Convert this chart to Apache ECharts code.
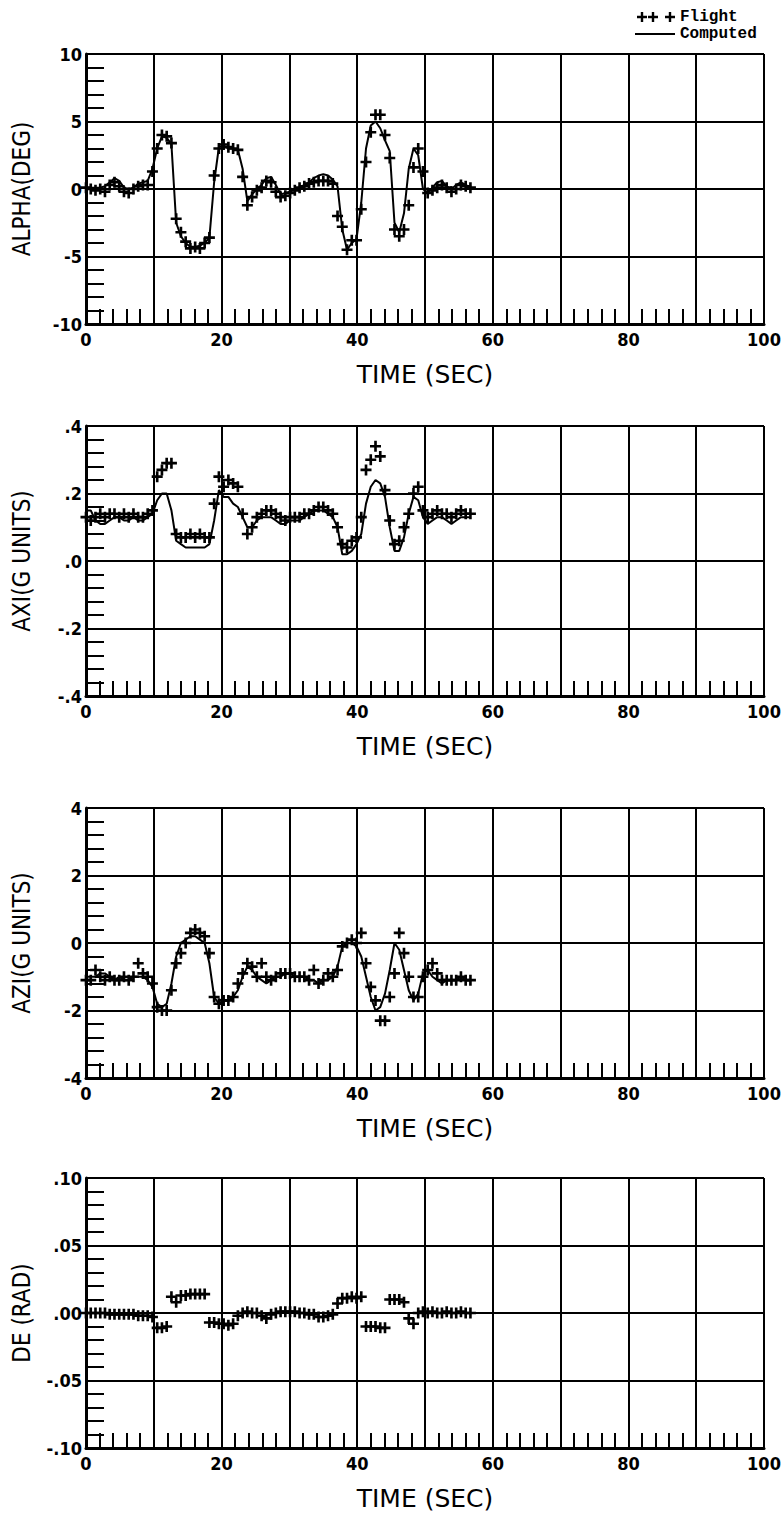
<!DOCTYPE html>
<html>
<head>
<meta charset="utf-8">
<script src="https://cdn.jsdelivr.net/npm/echarts@6/dist/echarts.min.js"></script>
<style>
  html, body { margin: 0; padding: 0; background: #fff; }
  #main { width: 784px; height: 1514px; }
</style>
</head>
<body>
<div id="main"></div>
<script>
// sample times (sec), shared by flight and computed traces
var sampleTime = [0,0.7,1.4,2.1,2.8,3.5,4.2,4.9,5.6,6.3,7,7.7,8.4,9.1,9.8,10.5,11.2,11.9,12.6,13.3,
  14,14.7,15.4,16.1,16.8,17.5,18.2,18.9,19.6,20.3,21,21.7,22.4,23.1,23.8,24.5,25.2,25.9,26.6,27.3,
  28,28.7,29.4,30.1,30.8,31.5,32.2,32.9,33.6,34.3,35,35.7,36.4,37.1,37.8,38.5,39.2,39.9,40.6,41.3,
  42,42.7,43.4,44.1,44.8,45.5,46.2,46.9,47.6,48.3,49,49.7,50.4,51.1,51.8,52.5,53.2,53.9,54.6,55.3,56,56.7];

// ALPHA (deg)
var alphaFlight = [0.1,0,-0.1,0,-0.2,0.3,0.5,0.2,-0.2,-0.3,0,0.2,0.3,0.3,1.3,3.0,4.0,3.9,3.4,-2.2,
  -3.2,-3.9,-4.4,-4.3,-4.4,-4.0,-3.6,1.0,3.0,3.3,3.1,3.0,2.9,0.9,-1.2,-0.6,-0.1,0.1,0.6,0.5,
  -0.2,-0.6,-0.5,-0.3,-0.1,0.1,0.2,0.4,0.5,0.6,0.6,0.6,0.4,-2.0,-2.8,-4.5,-3.8,-3.8,-1.5,2.0,
  4.2,5.5,5.5,4.0,2.3,-3.0,-3.5,-3.0,-1.2,1.6,3.0,1.3,-0.3,-0.1,0.1,0.3,0.1,-0.2,0,0.3,0.2,0.1];
var alphaComputed = [0.1,0.1,0.1,0.1,0.2,0.5,0.8,0.6,0.1,0,0.1,0.4,0.5,0.6,1.5,3.0,3.9,3.8,3.3,-2.5,
  -3.5,-4.0,-4.3,-4.3,-4.2,-4.0,-3.6,0.5,3.1,3.2,3.0,3.0,2.9,1.5,-0.9,-0.4,0,0.3,0.8,0.9,
  0.3,-0.4,-0.3,-0.2,0,0.1,0.3,0.5,0.8,1.0,1.1,1.0,0.7,0.2,-3.0,-4.5,-4.0,-3.7,-1.0,3.0,
  4.7,5.0,4.5,3.6,2.8,-2.5,-3.2,-1.8,1.5,3.0,2.5,0,-0.3,0.1,0.5,0.6,0.2,0,0.3,0.5,0.3,0.1];

// AXI (g units)
var axiFlight = [0.13,0.12,0.13,0.14,0.13,0.14,0.14,0.13,0.14,0.13,0.14,0.13,0.13,0.14,0.15,0.25,0.27,0.29,0.29,0.08,
  0.07,0.07,0.08,0.07,0.08,0.07,0.07,0.17,0.25,0.22,0.24,0.23,0.22,0.14,0.08,0.10,0.13,0.14,0.15,0.15,
  0.14,0.13,0.12,0.13,0.13,0.13,0.14,0.14,0.15,0.16,0.16,0.15,0.14,0.10,0.05,0.04,0.06,0.07,0.13,0.27,
  0.30,0.34,0.31,0.21,0.12,0.05,0.06,0.10,0.14,0.20,0.22,0.15,0.13,0.14,0.15,0.14,0.14,0.13,0.14,0.15,0.14,0.14];
var axiComputed = [0.15,0.15,0.12,0.11,0.11,0.12,0.13,0.13,0.12,0.12,0.13,0.12,0.12,0.13,0.14,0.18,0.20,0.20,0.15,0.06,
  0.05,0.04,0.04,0.04,0.04,0.04,0.05,0.12,0.21,0.19,0.19,0.17,0.16,0.13,0.10,0.10,0.12,0.13,0.13,0.13,
  0.12,0.11,0.11,0.12,0.12,0.12,0.13,0.14,0.15,0.15,0.15,0.14,0.13,0.10,0.02,0.02,0.03,0.05,0.08,0.17,
  0.22,0.24,0.23,0.19,0.10,0.03,0.03,0.07,0.14,0.19,0.18,0.13,0.11,0.12,0.13,0.13,0.12,0.11,0.12,0.13,0.13,0.13];

// AZI (g units)
var aziFlight = [-1.1,-1.1,-0.8,-1.0,-1.1,-1.0,-1.1,-1.1,-1.0,-1.1,-1.0,-0.6,-0.9,-1.0,-1.2,-1.9,-2.0,-2.0,-1.4,-0.6,
  -0.3,0,0.3,0.4,0.3,0.2,-0.3,-1.6,-1.8,-1.7,-1.7,-1.6,-1.2,-0.9,-0.6,-0.7,-1.0,-0.6,-1.0,-1.1,
  -1.0,-0.9,-0.9,-0.9,-1.0,-1.0,-1.0,-1.1,-0.8,-1.2,-1.1,-0.9,-1.0,-0.8,-0.1,0,0.1,0,0.3,-0.6,
  -1.3,-1.7,-2.3,-2.3,-1.6,-0.9,0.3,-0.3,-1.0,-1.6,-1.6,-1.0,-0.8,-0.6,-0.9,-1.1,-1.1,-1.1,-1.1,-1.0,-1.1,-1.1];
var aziComputed = [-1.0,-1.0,-1.0,-0.9,-0.9,-1.0,-1.1,-1.0,-1.1,-1.1,-1.0,-1.0,-1.0,-1.1,-1.3,-1.8,-1.9,-1.8,-1.2,-0.4,
  0,0.1,0.2,0.2,0.1,0,-0.6,-1.6,-1.8,-1.7,-1.7,-1.6,-1.4,-1.0,-0.7,-0.8,-1.0,-1.1,-1.2,-1.1,
  -1.0,-1.0,-0.9,-0.9,-1.0,-1.0,-1.0,-1.1,-1.1,-1.2,-1.1,-1.1,-1.0,-0.7,-0.1,0,0,-0.1,-0.4,-1.0,
  -1.6,-2.0,-1.9,-1.5,-0.8,0,-0.2,-0.8,-1.4,-1.7,-1.5,-0.9,-0.8,-1.0,-1.1,-1.2,-1.1,-1.1,-1.1,-1.0,-1.1,-1.1];

// DE (rad), flight only
var deFlight = [0,0,0,0,0,-0.001,-0.001,-0.001,-0.001,-0.001,-0.001,-0.002,-0.002,-0.002,-0.003,-0.011,-0.011,-0.010,0.012,0.008,
  0.013,0.013,0.014,0.014,0.014,0.014,-0.007,-0.007,-0.008,-0.008,-0.009,-0.008,-0.002,0,0.001,0,0,-0.002,-0.004,-0.001,
  0,0.001,0.001,0.001,0.001,0,0,-0.001,-0.001,-0.003,-0.003,-0.002,-0.001,0.007,0.011,0.011,0.012,0.011,0.012,-0.010,
  -0.010,-0.010,-0.011,-0.011,0.010,0.010,0.010,0.008,-0.004,-0.008,0,0.001,0,0.001,0,0,0.001,0,0,0.001,0,0];

// tick labels
var timeLabels = ['0', '20', '40', '60', '80', '100'];
var alphaLabels = ['-10', '-5', '0', '5', '10'];
var axiLabels = ['-.4', '-.2', '.0', '.2', '.4'];
var aziLabels = ['-4', '-2', '0', '2', '4'];
var deLabels = ['-.10', '-.05', '.00', '.05', '.10'];

var panelTops = [54, 426, 808, 1178];
var plotFont = '"DejaVu Sans Condensed", "DejaVu Sans", sans-serif';
var plus = function (o) {
  return 'M' + (o + 3.8) + ',0H' + (o + 6.2) + 'V3.8H' + (o + 10) + 'V6.2H' + (o + 6.2) + 'V10H' + (o + 3.8) + 'V6.2H' + o + 'V3.8H' + (o + 3.8) + 'Z';
};
var plusSymbol = 'path://' + plus(0);

var panels = [
  { name: 'ALPHA(DEG)', min: -10, max: 10, step: 5, labels: alphaLabels, flight: alphaFlight, computed: alphaComputed },
  { name: 'AXI(G UNITS)', min: -0.4, max: 0.4, step: 0.2, labels: axiLabels, flight: axiFlight, computed: axiComputed },
  { name: 'AZI(G UNITS)', min: -4, max: 4, step: 2, labels: aziLabels, flight: aziFlight, computed: aziComputed },
  { name: 'DE (RAD)', min: -0.1, max: 0.1, step: 0.05, labels: deLabels, flight: deFlight, computed: null }
];

var grids = [], xAxes = [], yAxes = [], series = [];
var black = '#000';

panels.forEach(function (p, i) {
  grids.push({ left: 86, width: 678, top: panelTops[i], height: 270 });
  xAxes.push({
    gridIndex: i, type: 'value', min: 0, max: 100, interval: 10,
    name: 'TIME (SEC)', nameLocation: 'middle', nameGap: 38,
    nameTextStyle: { fontFamily: '"DejaVu Sans", sans-serif', fontSize: 25, color: black },
    axisLine: { show: true, onZero: false, lineStyle: { color: black, width: 3 } },
    axisTick: { show: true, inside: true, length: 15, lineStyle: { color: black, width: 2 } },
    minorTick: { show: true, splitNumber: 5, length: 15, lineStyle: { color: black, width: 2 } },
    splitLine: { show: true, lineStyle: { color: black, width: 2 } },
    axisLabel: {
      fontFamily: plotFont, fontSize: 18, fontWeight: 'bold', color: black, margin: 6,
      formatter: function (v) { return v % 20 === 0 ? timeLabels[v / 20] : ''; }
    }
  });
  yAxes.push({
    gridIndex: i, type: 'value', min: p.min, max: p.max, interval: p.step,
    name: p.name, nameLocation: 'middle', nameGap: 52, nameRotate: 90,
    nameTextStyle: { fontFamily: plotFont, fontSize: 24, color: black },
    axisLine: { show: true, onZero: false, lineStyle: { color: black, width: 3 } },
    axisTick: { show: true, inside: true, length: 18, lineStyle: { color: black, width: 2 } },
    minorTick: { show: true, splitNumber: 5, length: 18, lineStyle: { color: black, width: 2 } },
    splitLine: { show: true, lineStyle: { color: black, width: 2 } },
    axisLabel: {
      fontFamily: plotFont, fontSize: 18, fontWeight: 'bold', color: black, margin: 4,
      formatter: function (v) { return p.labels[Math.round((v - p.min) / p.step)]; }
    }
  });
  if (p.computed) {
    series.push({
      name: 'Computed', type: 'line', xAxisIndex: i, yAxisIndex: i,
      showSymbol: false, symbol: 'none', silent: true,
      lineStyle: { color: black, width: 2 }, itemStyle: { color: black },
      data: sampleTime.map(function (t, k) { return [t, p.computed[k]]; })
    });
  }
  series.push({
    name: 'Flight', type: 'scatter', xAxisIndex: i, yAxisIndex: i, z: 3,
    symbol: plusSymbol, symbolSize: 11, silent: true,
    itemStyle: { color: black, opacity: 1 },
    data: sampleTime.map(function (t, k) { return [t, p.flight[k]]; })
  });
});

var legendText = { fontFamily: '"Liberation Mono", "DejaVu Sans Mono", monospace', fontSize: 16, fontWeight: 'bold', color: black };
var option = {
  backgroundColor: '#fff',
  animation: false,
  legend: [
    { left: 632, top: 4, itemWidth: 38, itemHeight: 10, itemGap: 2, selectedMode: false, textStyle: legendText,
      data: [{ name: 'Flight', icon: 'path://' + plus(0) + plus(11) + plus(28) }] },
    { left: 630, top: 21, itemWidth: 40, itemHeight: 2, selectedMode: false, textStyle: legendText,
      data: [{ name: 'Computed', icon: 'path://M0,0H40V2H0Z' }] }
  ],
  grid: grids,
  xAxis: xAxes,
  yAxis: yAxes,
  series: series
};

var chart = echarts.init(document.getElementById('main'), null, { renderer: 'svg' });
chart.setOption(option);
</script>
</body>
</html>
